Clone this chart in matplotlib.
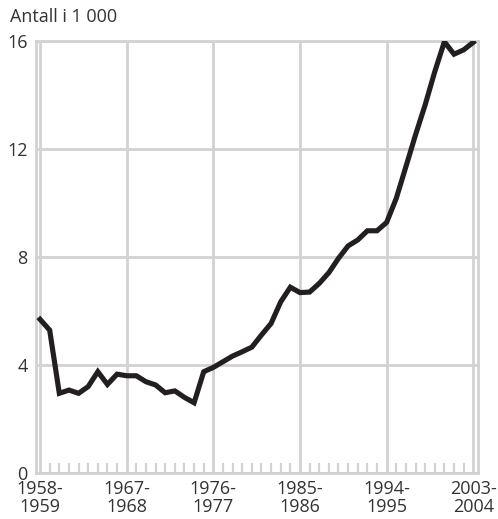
import numpy as np
import matplotlib.pyplot as plt
from matplotlib.ticker import MultipleLocator

# --- Data (thousands) ---
years = np.arange(1958, 2004)
values = [5.68, 5.28, 2.94, 3.06, 2.94, 3.19, 3.74, 3.27, 3.65, 3.59,
          3.59, 3.37, 3.25, 2.96, 3.03, 2.79, 2.59, 3.74, 3.90, 4.11,
          4.32, 4.48, 4.65, 5.10, 5.53, 6.33, 6.87, 6.67, 6.69, 7.01,
          7.41, 7.94, 8.40, 8.62, 8.96, 8.96, 9.27, 10.16, 11.33, 12.51,
          13.62, 14.85, 15.96, 15.50, 15.66, 15.94]
label_years = [1958, 1967, 1976, 1985, 1994, 2003]
tick_labels = [f"{y}-\n{y + 1}" for y in label_years]
y_ticks = [0, 4, 8, 12, 16]

GRID = "#d2d2d2"
LINE = "#231f20"
TEXT = "#333333"

plt.rcParams['font.family'] = ['Open Sans', 'DejaVu Sans']

fig = plt.figure(figsize=(4.98, 5.19), dpi=100)
ax = fig.add_axes([0.0723, 0.0892, 0.8877, 0.8324])

ax.plot(years, values, color=LINE, lw=3.7, solid_joinstyle='miter', zorder=3)

ax.set_xlim(1957.58, 2003.5)
ax.set_ylim(0, 16)
ax.set_xticks(label_years)
ax.set_xticklabels(tick_labels, linespacing=1.05)
ax.set_yticks(y_ticks)
ax.xaxis.set_minor_locator(MultipleLocator(1))

ax.grid(True, which='major', color=GRID, lw=2.0, zorder=1)
for s in ax.spines.values():
    s.set_color(GRID)
    s.set_linewidth(2.0)

ax.tick_params(axis='both', which='major', length=0, labelsize=13,
               labelcolor=TEXT)
ax.tick_params(axis='y', which='major', pad=6)
ax.tick_params(axis='x', which='major', pad=5)
ax.tick_params(axis='x', which='minor', direction='in', length=7,
               width=1.6, color=GRID)

fig.text(10 / 498, 1 - 22 / 519, "Antall i 1 000", fontsize=13,
         color=TEXT, ha='left', va='baseline')

fig.savefig("out.png", dpi=100)
